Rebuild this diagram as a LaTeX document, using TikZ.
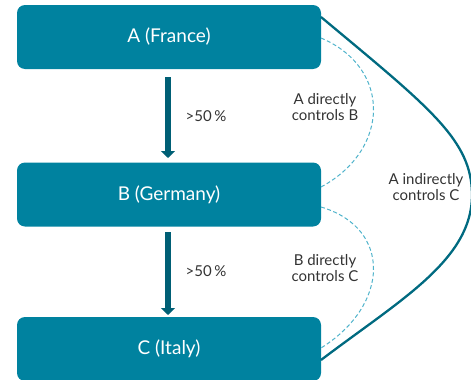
\documentclass[tikz,border=0pt]{standalone}
\usepackage{fontspec}
\setmainfont{Lato}
\usetikzlibrary{arrows.meta}
\definecolor{boxteal}{HTML}{00829F}
\definecolor{arrowteal}{HTML}{005F75}
\definecolor{curveteal}{HTML}{006A80}
\definecolor{dashblue}{HTML}{4FB3CB}
\definecolor{labelgray}{HTML}{333333}
\tikzset{
  country/.style={fill=boxteal, rounded corners=8pt, minimum width=304pt, minimum height=64pt,
    inner sep=0pt, text=white, font=\fontsize{19}{22}\selectfont},
  ownership/.style={draw=arrowteal, line width=5.5pt, -{Triangle[length=7pt,width=14pt]}},
  lbl/.style={text=labelgray, font=\fontsize{15}{16}\selectfont, align=center, inner sep=0pt},
  direct/.style={draw=dashblue, line width=1pt, dash pattern=on 4pt off 2.5pt},
  indirect/.style={draw=curveteal, line width=2.3pt}
}
\begin{document}
\begin{tikzpicture}[x=1pt,y=-1pt]
\useasboundingbox (0,0) rectangle (471,380);
\begin{scope}
\clip (0,0) rectangle (471,380);
% countries
\node[country] (A) at (169,37) {A (France)};
\node[country] (B) at (169,194.5) {B (Germany)};
\node[country] (C) at (169,349) {C (Italy)};

% ownership arrows
\coordinate (a1) at (168,77);
\coordinate (a2) at (168,158);
\coordinate (b1) at (168,232);
\coordinate (b2) at (168,315);
\draw[ownership] (a1) -- (a2);
\draw[ownership] (b1) -- (b2);
\node[lbl] (p1) at (206,116) {>50\,\%};
\node[lbl] (p2) at (206,271) {>50\,\%};

% direct control (dashed)
\coordinate (ad) at (321,38);
\coordinate (bd1) at (321,187);
\coordinate (bd2) at (321,207);
\coordinate (cd) at (321,348);
\draw[direct] (ad) .. controls (392,68) and (390,150) .. (bd1);
\draw[direct] (bd2) .. controls (392,228) and (390,305) .. (cd);
\node[lbl] (l1) at (325,107) {A directly\\controls B};
\node[lbl] (l2) at (325,268) {B directly\\controls C};

% indirect control (solid)
\coordinate (ai) at (321,17);
\coordinate (apex) at (472,195);
\coordinate (ci) at (321,360);
\draw[indirect] (ai) .. controls (430,108) and (472,140) .. (apex)
  .. controls (472,260) and (400,300) .. (ci);
\node[lbl] (l3) at (426,187) {A indirectly\\controls C};
\end{scope}
\end{tikzpicture}
\end{document}
